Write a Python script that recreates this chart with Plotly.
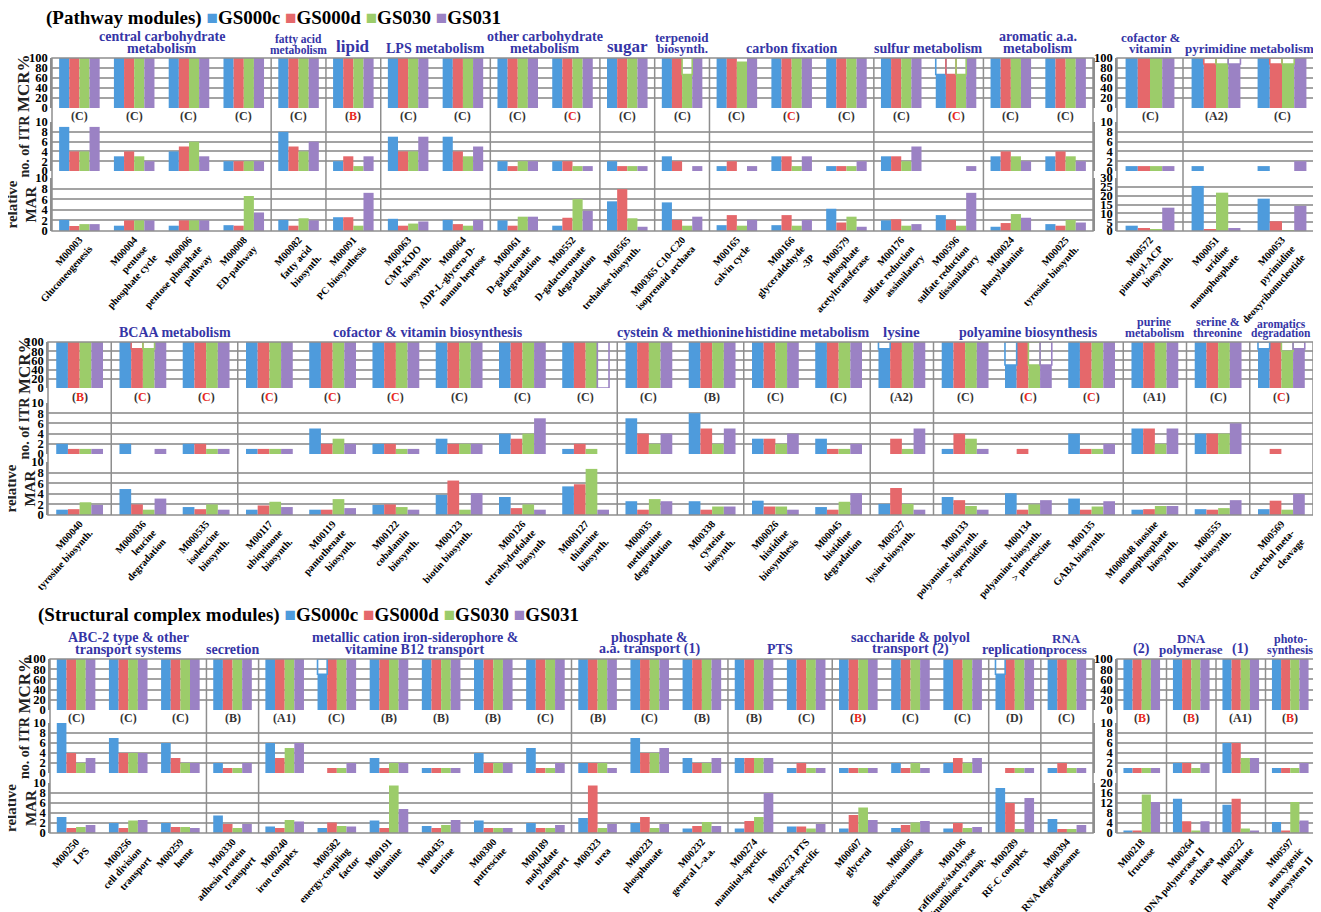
import plotly.graph_objects as go

W, H = 1321, 912
OFF = 8  # page body margin of the browser
FIGW, FIGH = W - OFF, H - OFF
SERIES = ["GS000c", "GS000d", "GS030", "GS031"]
COLORS = ["#4E9BDC", "#E5686B", "#9CCC6A", "#9B82C4"]
HEADER_COLOR = "#3535A6"
RED = "#E8281E"
SERIF = "Liberation Serif"

# ---------------- Block A: pathway modules, row 1 (main) ----------------
A_LABELS = ["M00003<br>Gluconeogenesis", "M00004<br>pentose<br>phosphate cycle",
            "M00006<br>pentose phosphate<br>pathway", "M00008<br>ED-pathway",
            "M00082<br>fatty acid<br>biosynth.", "M00091<br>PC biosynthesis",
            "M00063<br>CMP-KDO<br>biosynth.", "M00064<br>ADP-L-glycero-D-<br>manno heptose",
            "M00061<br>D-galactonate<br>degradation", "M00552<br>D-galacturonate<br>degradation",
            "M00565<br>trehalose biosynth.", "M00365 C10-C20<br>isoprenoid archaea",
            "M00165<br>calvin cycle", "M00166<br>glyceraldehyde<br>-3P",
            "M00579<br>phosphate<br>acetyltransferase", "M00176<br>sulfate reduction<br>assimilatory",
            "M00596<br>sulfate reduction<br>dissimilatory", "M00024<br>phenylalanine",
            "M00025<br>tyrosine biosynth."]
A_GROUP_NAMES = ["central carbohydrate<br>metabolism", "fatty acid<br>metabolism", "lipid",
                 "LPS metabolism", "other carbohydrate<br>metabolism", "sugar", "terpenoid<br>biosynth.",
                 "carbon fixation", "sulfur metabolism", "aromatic a.a.<br>metabolism"]
A_GROUP_SIZES = [4, 1, 1, 2, 2, 1, 1, 3, 2, 2]
A_LETTERS = ["C", "C", "C", "C", "C", "B", "C", "C", "C", "C", "C", "C", "C", "C", "C", "C", "C", "C", "C"]
A_RED = [5, 9, 13, 16]
A_MCR_C = [100, 100, 100, 100, 100, 100, 100, 100, 100, 100, 100, 100, 100, 100, 100, 100, 67, 100, 100]
A_MCR_D = [100, 100, 100, 100, 100, 100, 100, 100, 100, 100, 100, 100, 100, 100, 100, 100, 67, 100, 100]
A_MCR_G = [100, 100, 100, 100, 100, 100, 100, 100, 100, 100, 100, 67, 93, 100, 100, 100, 67, 100, 100]
A_MCR_P = [100, 100, 100, 100, 100, 100, 100, 100, 100, 100, 100, 100, 100, 100, 100, 100, 100, 100, 100]
A_DASHED = [[11, 2], [16, 0], [16, 1], [16, 2]]
A_ITR_C = [9, 3, 4, 2, 8, 2, 7, 7, 2, 2, 2, 3, 1, 3, 1, 3, 0, 3, 3]
A_ITR_D = [4, 4, 5, 2, 5, 3, 4, 4, 1, 2, 1, 2, 2, 3, 1, 3, 0, 4, 4]
A_ITR_G = [4, 3, 6, 2, 4, 1, 4, 3, 2, 1, 1, 0, 0, 1, 1, 2, 0, 3, 3]
A_ITR_P = [9, 2, 3, 2, 6, 3, 7, 5, 2, 1, 1, 1, 1, 3, 2, 5, 1, 2, 2]
A_MAR_C = [2.1, 1, 1, 1.1, 2.1, 2.6, 2.3, 2.1, 2, 1, 5.6, 5.4, 1.1, 1.1, 4.2, 2, 3, 0.8, 1.3]
A_MAR_D = [0.95, 2, 2, 1, 1, 2.6, 1, 1.3, 1, 2.5, 7.9, 2.1, 3, 3, 1.6, 2.2, 2.1, 1.5, 1]
A_MAR_G = [1.3, 2, 2, 6.6, 2.4, 1, 1.4, 1, 2.7, 6, 2.4, 1, 1, 1, 2.7, 1, 1, 3.2, 2.1]
A_MAR_P = [1.3, 2, 2, 3.5, 2, 7.2, 1.8, 2.1, 2.7, 3.8, 0.8, 2.7, 2.1, 2.1, 0.8, 1.3, 7.2, 2.5, 1.6]

# ---------------- Block B: pathway modules, row 1 (right) ----------------
B_LABELS = ["M00572<br>pimeloyl-ACP<br>biosynth.", "M00051<br>uridine<br>monophosphate",
            "M00053<br>pyrimidine<br>deoxyribonucleotide"]
B_GROUP_NAMES = ["cofactor &<br>vitamin", "pyrimidine metabolism"]
B_GROUP_SIZES = [1, 2]
B_LETTERS = ["C", "A2", "C"]
B_RED = []
B_MCR_C = [100, 100, 100]
B_MCR_D = [100, 88, 88]
B_MCR_G = [100, 88, 88]
B_MCR_P = [100, 88, 100]
B_DASHED = [[1, 1], [1, 2], [1, 3], [2, 1], [2, 2]]
B_ITR_C = [1, 1, 1]
B_ITR_D = [1, 0, 0]
B_ITR_G = [1, 0, 0]
B_ITR_P = [1, 0, 2]
B_MAR_C = [3, 25.5, 18.3]
B_MAR_D = [1.7, 1, 5.5]
B_MAR_G = [0.9, 21.7, 0.5]
B_MAR_P = [13.2, 1.7, 14.2]

# ---------------- Block C: pathway modules, row 2 ----------------
C_LABELS = ["M00040<br>tyrosine biosynth.", "M000036<br>leucine<br>degradation",
            "M000535<br>isoleucine<br>biosynth.", "M00117<br>ubiquinone<br>biosynth.",
            "M00119<br>pantothenate<br>biosynth.", "M00122<br>cobalamin<br>biosynth.",
            "M00123<br>biotin biosynth.", "M00126<br>tetrahydrofolate<br>biosynth",
            "M000127<br>thiamine<br>biosynth.", "M00035<br>methionine<br>degradation",
            "M00338<br>cysteine<br>biosynth.", "M00026<br>histidine<br>biosynthesis",
            "M00045<br>histidine<br>degradation", "M00527<br>lysine biosynth.",
            "M00133<br>polyamine biosynth.<br>> spermidine", "M00134<br>polyamine biosynth.<br>> putrescine",
            "M00135<br>GABA biosynth.", "M000048 inosine<br>monophosphate<br>biosynth.",
            "M00555<br>betaine biosynth.", "M00569<br>catechol meta-<br>cleavage"]
C_GROUP_NAMES = ["", "BCAA metabolism", "cofactor & vitamin biosynthesis", "cystein & methionine",
                 "histidine metabolism", "lysine", "polyamine biosynthesis", "purine<br>metabolism",
                 "serine &<br>threonine", "aromatics<br>degradation"]
C_GROUP_SIZES = [1, 2, 6, 2, 2, 1, 3, 1, 1, 1]
C_LETTERS = ["B", "C", "C", "C", "C", "C", "C", "C", "C", "C", "B", "C", "C", "A2", "C", "C", "C", "A1", "C", "C"]
C_RED = [0, 1, 2, 3, 4, 5, 15, 16, 19]
C_MCR_C = [100, 100, 100, 100, 100, 100, 100, 100, 100, 100, 100, 100, 100, 85, 100, 50, 100, 100, 100, 85]
C_MCR_D = [100, 85, 100, 100, 100, 100, 100, 100, 100, 100, 100, 100, 100, 100, 100, 100, 100, 100, 100, 100]
C_MCR_G = [100, 85, 100, 100, 100, 100, 100, 100, 100, 100, 100, 100, 100, 100, 100, 50, 100, 100, 100, 80]
C_MCR_P = [100, 100, 100, 100, 100, 100, 100, 100, 0, 100, 100, 100, 100, 100, 100, 50, 100, 100, 100, 85]
C_DASHED = [[1, 1], [1, 2], [8, 3], [13, 0], [15, 0], [15, 2], [15, 3], [19, 0], [19, 2], [19, 3]]
C_ITR_C = [2, 2, 2, 1, 5, 2, 3, 4, 1, 7, 8, 3, 3, 0, 1, 0, 4, 5, 4, 0]
C_ITR_D = [1, 0, 2, 1, 2, 2, 2, 3, 2, 4, 5, 3, 1, 3, 4, 1, 1, 5, 4, 1]
C_ITR_G = [1, 0, 1, 1, 3, 1, 2, 4, 1, 2, 2, 2, 1, 1, 3, 0, 1, 2, 4, 0]
C_ITR_P = [1, 1, 1, 1, 2, 1, 2, 7, 0, 4, 5, 4, 2, 5, 1, 0, 2, 5, 6, 0]
C_MAR_C = [1, 4.9, 1.5, 1, 1, 1.9, 3.8, 3.4, 5.4, 2.6, 2.6, 2.7, 1.5, 2.1, 3.4, 4.1, 3.1, 1, 1.1, 1.1]
C_MAR_D = [1.1, 2, 1.1, 1.8, 1, 2, 6.5, 1.3, 5.8, 1, 1, 1.6, 1, 5.1, 2.8, 1, 1, 1.1, 1, 2.7]
C_MAR_G = [2.4, 1, 2, 2.5, 3, 1.5, 1, 2, 8.7, 3, 1.6, 1.6, 2.5, 2.1, 1.7, 2, 1.6, 1.7, 1.3, 1]
C_MAR_P = [1.9, 3.1, 1, 1.5, 1.3, 1, 4.1, 1, 1, 2.6, 1.6, 1, 4.1, 1, 1, 2.8, 2.6, 1.7, 2.8, 4]

# ---------------- Block D: structural complex modules (main) ----------------
D_LABELS = ["M00250<br>LPS", "M00256<br>cell division<br>transport", "M00259<br>heme",
            "M00330<br>adhesin protein<br>transport", "M00240<br>iron complex",
            "M00582<br>energy-coupling<br>factor", "M00191<br>thiamine", "M00435<br>taurine",
            "M00300<br>putrescine", "M00189<br>molybdate<br>transport", "M00323<br>urea",
            "M00223<br>phosphonate", "M00232<br>general L-a.a.", "M00274<br>mannitol-specific",
            "M00273 PTS<br>fructose-specific", "M00607<br>glycerol", "M00605<br>glucose/mannose",
            "M00196<br>raffinose/stachyose<br>/melibiose transp.", "M00289<br>RF-C complex",
            "M00394<br>RNA degradosome"]
D_GROUP_NAMES = ["ABC-2 type & other<br>transport systems", "secretion",
                 "metallic cation iron-siderophore &<br>vitamine B12 transport",
                 "phosphate &<br>a.a. transport (1)", "PTS", "saccharide & polyol<br>transport (2)",
                 "replication", "RNA<br>process"]
D_GROUP_SIZES = [3, 1, 6, 3, 2, 3, 1, 1]
D_LETTERS = ["C", "C", "C", "B", "A1", "C", "B", "B", "B", "C", "B", "C", "B", "B", "C", "B", "C", "C", "D", "C"]
D_RED = [15]
D_MCR_C = [100, 100, 100, 100, 100, 70, 100, 100, 100, 100, 100, 100, 100, 100, 100, 100, 100, 100, 70, 100]
D_MCR_D = [100] * 20
D_MCR_G = [100] * 20
D_MCR_P = [100] * 20
D_DASHED = [[5, 0], [18, 0]]
D_ITR_C = [10, 7, 6, 2, 6, 0, 3, 1, 4, 5, 2, 7, 3, 3, 1, 1, 2, 2, 0, 1]
D_ITR_D = [4, 4, 3, 1, 3, 1, 1, 1, 2, 1, 2, 4, 2, 3, 2, 1, 1, 3, 1, 2]
D_ITR_G = [2, 4, 2, 1, 5, 1, 2, 1, 2, 1, 2, 4, 2, 3, 1, 1, 2, 2, 1, 1]
D_ITR_P = [3, 4, 2, 2, 6, 2, 2, 1, 2, 2, 1, 5, 3, 3, 1, 1, 1, 3, 1, 1]
D_MAR_C = [3.2, 2, 2, 3.5, 1.3, 1, 2.5, 1.4, 2.5, 2, 3, 2, 0.9, 0.9, 1.3, 0.9, 1, 0.9, 9, 2.8]
D_MAR_D = [1, 1, 1.2, 1.8, 1, 2.1, 1, 1, 1, 1, 9.5, 3.2, 1.4, 2.4, 1.3, 3.6, 1.6, 2, 6, 0.8]
D_MAR_G = [1.2, 2.5, 1.2, 1, 2.6, 1.4, 9.5, 1.6, 1, 1, 1, 1, 2.2, 3.2, 0.9, 5.1, 2.1, 1, 0.8, 0.8]
D_MAR_P = [1.6, 2.6, 1, 1.8, 2.3, 1.3, 4.8, 2.6, 1, 1.6, 1.8, 1.8, 1.4, 8, 1.8, 2.6, 2.4, 1.2, 7, 1.6]

# ---------------- Block E: structural complex modules (right) ----------------
E_LABELS = ["M00218<br>fructose", "M00264<br>DNA polymerase II<br>archaea", "M00222<br>phosphate",
            "M00597<br>anoxygenic<br>photosystem II"]
E_GROUP_NAMES = ["(2)", "DNA<br>polymerase", "(1)", "photo-<br>synthesis"]
E_GROUP_SIZES = [1, 1, 1, 1]
E_LETTERS = ["B", "B", "A1", "B"]
E_RED = [0, 1, 3]
E_MCR_C = [100, 100, 100, 100]
E_MCR_D = [100, 100, 100, 100]
E_MCR_G = [100, 100, 100, 100]
E_MCR_P = [100, 100, 100, 100]
E_DASHED = []
E_ITR_C = [1, 2, 6, 1]
E_ITR_D = [1, 2, 6, 1]
E_ITR_G = [1, 1, 3, 1]
E_ITR_P = [1, 2, 3, 2]
E_MAR_C = [1, 13.7, 11.3, 4.4]
E_MAR_D = [1, 4.7, 13.7, 1]
E_MAR_G = [15.4, 1, 1.8, 12.4]
E_MAR_P = [12.4, 4.7, 1, 5]

HEADER_SIZES = {"lipid": 17, "sugar": 17, "lysine": 15, "fatty acid<br>metabolism": 11.5,
                "pyrimidine metabolism": 13, "purine<br>metabolism": 12,
                "serine &<br>threonine": 12, "aromatics<br>degradation": 11.5,
                "cofactor &<br>vitamin": 13, "photo-<br>synthesis": 12, "RNA<br>process": 13,
                "DNA<br>polymerase": 13, "terpenoid<br>biosynth.": 13}


def fx(px):
    return min(1.0, max(0.0, (px - OFF) / FIGW))


def fy(py):
    return min(1.0, max(0.0, 1 - (py - OFF) / FIGH))


blocks = [
    dict(labels=A_LABELS, gnames=A_GROUP_NAMES, gsizes=A_GROUP_SIZES, letters=A_LETTERS, red=A_RED,
         mcr=[A_MCR_C, A_MCR_D, A_MCR_G, A_MCR_P], itr=[A_ITR_C, A_ITR_D, A_ITR_G, A_ITR_P],
         mar=[A_MAR_C, A_MAR_D, A_MAR_G, A_MAR_P], dashed=A_DASHED,
         xpx=(52, 1093), rows=((58, 108), (122, 171), (178, 231)), mar_max=10, mar_dt=2, titles=True),
    dict(labels=B_LABELS, gnames=B_GROUP_NAMES, gsizes=B_GROUP_SIZES, letters=B_LETTERS, red=B_RED,
         mcr=[B_MCR_C, B_MCR_D, B_MCR_G, B_MCR_P], itr=[B_ITR_C, B_ITR_D, B_ITR_G, B_ITR_P],
         mar=[B_MAR_C, B_MAR_D, B_MAR_G, B_MAR_P], dashed=B_DASHED,
         xpx=(1117, 1315), rows=((58, 108), (122, 171), (178, 231)), mar_max=30, mar_dt=5, titles=False),
    dict(labels=C_LABELS, gnames=C_GROUP_NAMES, gsizes=C_GROUP_SIZES, letters=C_LETTERS, red=C_RED,
         mcr=[C_MCR_C, C_MCR_D, C_MCR_G, C_MCR_P], itr=[C_ITR_C, C_ITR_D, C_ITR_G, C_ITR_P],
         mar=[C_MAR_C, C_MAR_D, C_MAR_G, C_MAR_P], dashed=C_DASHED,
         xpx=(48, 1313), rows=((342, 388), (403, 454), (462, 515)), mar_max=10, mar_dt=2, titles=True),
    dict(labels=D_LABELS, gnames=D_GROUP_NAMES, gsizes=D_GROUP_SIZES, letters=D_LETTERS, red=D_RED,
         mcr=[D_MCR_C, D_MCR_D, D_MCR_G, D_MCR_P], itr=[D_ITR_C, D_ITR_D, D_ITR_G, D_ITR_P],
         mar=[D_MAR_C, D_MAR_D, D_MAR_G, D_MAR_P], dashed=D_DASHED,
         xpx=(50, 1093), rows=((659, 710), (723, 773), (783, 833)), mar_max=10, mar_dt=2, titles=True),
    dict(labels=E_LABELS, gnames=E_GROUP_NAMES, gsizes=E_GROUP_SIZES, letters=E_LETTERS, red=E_RED,
         mcr=[E_MCR_C, E_MCR_D, E_MCR_G, E_MCR_P], itr=[E_ITR_C, E_ITR_D, E_ITR_G, E_ITR_P],
         mar=[E_MAR_C, E_MAR_D, E_MAR_G, E_MAR_P], dashed=E_DASHED,
         xpx=(1117, 1315), rows=((659, 710), (723, 773), (783, 833)), mar_max=20, mar_dt=4, titles=False),
]

fig = go.Figure()
layout = dict(width=FIGW, height=FIGH, margin=dict(l=0, r=0, t=0, b=0), template="none",
              paper_bgcolor="white", plot_bgcolor="white", barmode="group",
              bargap=0.26, bargroupgap=0.0, showlegend=False, autosize=False)
annotations = []
shapes = []
GRID = "#A3A3A3"
FRAME = "#8E8E8E"
tickfont = dict(family=SERIF, size=12.5, color="black", weight="bold")

for b, blk in enumerate(blocks):
    n = len(blk["labels"])
    xi = b + 1
    xname = "x" if xi == 1 else f"x{xi}"
    xkey = "xaxis" if xi == 1 else f"xaxis{xi}"
    ynames = []
    panels = [(blk["mcr"], 100, 20), (blk["itr"], 10, 2), (blk["mar"], blk["mar_max"], blk["mar_dt"])]
    for p, (vals, ymax, dt) in enumerate(panels):
        yi = 3 * b + p + 1
        yname = "y" if yi == 1 else f"y{yi}"
        ykey = "yaxis" if yi == 1 else f"yaxis{yi}"
        ynames.append(yname)
        top, bot = blk["rows"][p]
        layout[ykey] = dict(domain=[fy(bot), fy(top)], anchor=xname, range=[0, ymax], dtick=dt,
                            tick0=0, showgrid=True, gridcolor=GRID, gridwidth=1.6, showline=True,
                            mirror=True, linecolor=FRAME, linewidth=1.5, ticks="", zeroline=False,
                            tickfont=tickfont, automargin=False, fixedrange=True, ticklen=0)
        for s in range(4):
            fig.add_trace(go.Bar(x=list(range(n)), y=vals[s], xaxis=xname, yaxis=yname,
                                 name=SERIES[s], marker=dict(color=COLORS[s], line=dict(width=0)),
                                 offsetgroup=str(s), showlegend=False))
        if p == 0:
            for s in range(4):
                dvals = [None] * n
                dbase = [0] * n
                for (i, ss) in blk["dashed"]:
                    if ss == s:
                        dvals[i] = 100 - vals[s][i]
                        dbase[i] = vals[s][i]
                if any(v is not None for v in dvals):
                    fig.add_trace(go.Bar(x=list(range(n)), y=dvals, base=dbase, xaxis=xname, yaxis=yname,
                                         marker=dict(color="rgba(255,255,255,0)",
                                                     line=dict(color=COLORS[s], width=1.6)),
                                         offsetgroup=str(s), showlegend=False, hoverinfo="skip"))
    mcr_top, mcr_bot = blk["rows"][0]
    itr_top = blk["rows"][1][0]
    mar_bot = blk["rows"][2][1]
    layout[xkey] = dict(domain=[fx(blk["xpx"][0]), fx(blk["xpx"][1])], anchor=ynames[2],
                        range=[-0.5, n - 0.5], tickvals=list(range(n)), ticktext=blk["labels"],
                        tickangle=-48, tickfont=dict(family=SERIF, size=10.2, color="black", weight="bold"),
                        showgrid=False, showline=False, ticks="", automargin=False, fixedrange=True,
                        zeroline=False)
    shapes.append(dict(type="rect", xref=f"{xname} domain", x0=0, x1=1, yref="paper",
                       y0=fy(mar_bot), y1=fy(mcr_top), line=dict(color=FRAME, width=1.5), layer="above"))
    start = 0
    for gname, gsize in zip(blk["gnames"], blk["gsizes"]):
        if start > 0:
            shapes.append(dict(type="line", xref=xname, x0=start - 0.5, x1=start - 0.5, yref="paper",
                               y0=fy(mar_bot), y1=fy(mcr_top), line=dict(color=FRAME, width=1.5),
                               layer="above"))
        if gname:
            fs = HEADER_SIZES.get(gname, 14)
            lines = gname.split("<br>")
            for k, line in enumerate(reversed(lines)):
                annotations.append(dict(text=line, xref=xname, x=start + (gsize - 1) / 2, yref="paper",
                                        y=fy(mcr_top - 1 - k * (fs * 0.88)), xanchor="center",
                                        yanchor="bottom", showarrow=False, borderpad=0,
                                        font=dict(family=SERIF, size=fs, color=HEADER_COLOR, weight="bold")))
        start += gsize
    for i, letter in enumerate(blk["letters"]):
        txt = f"(<span style='color:{RED}'>{letter}</span>)" if i in blk["red"] else f"({letter})"
        annotations.append(dict(text=txt, xref=xname, x=i, yref="paper", y=fy((mcr_bot + itr_top) / 2 + 1),
                                xanchor="center", yanchor="middle", showarrow=False,
                                font=dict(family=SERIF, size=12, color="#333333", weight="bold")))
    if blk["titles"]:
        ttl = ["MCR%", "no. of ITR", "relative<br>MAR"]
        tsz = [17, 14, 15]
        txp = [24, 24, 21]
        for p in range(3):
            top, bot = blk["rows"][p]
            annotations.append(dict(text=ttl[p], xref="paper", x=fx(txp[p]), yref="paper",
                                    y=fy((top + bot) / 2), textangle=-90, showarrow=False,
                                    xanchor="center", yanchor="middle",
                                    font=dict(family=SERIF, size=tsz[p], color="#222222", weight="bold")))


def legend_text(title):
    parts = [title]
    for s in range(4):
        parts.append(f"<span style='color:{COLORS[s]}'>■</span>{SERIES[s]}")
    return " ".join(parts)


legfont = dict(family=SERIF, size=19, color="black", weight="bold")
annotations.append(dict(text=legend_text("(Pathway modules)"), xref="paper", yref="paper",
                        x=fx(44), y=fy(18), xanchor="left", yanchor="middle", showarrow=False,
                        font=legfont))
annotations.append(dict(text=legend_text("(Structural complex modules)"), xref="paper", yref="paper",
                        x=fx(36), y=fy(615), xanchor="left", yanchor="middle", showarrow=False,
                        font=legfont))
layout["annotations"] = annotations
layout["shapes"] = shapes
fig.update_layout(**layout)
fig.write_html("out.html")
